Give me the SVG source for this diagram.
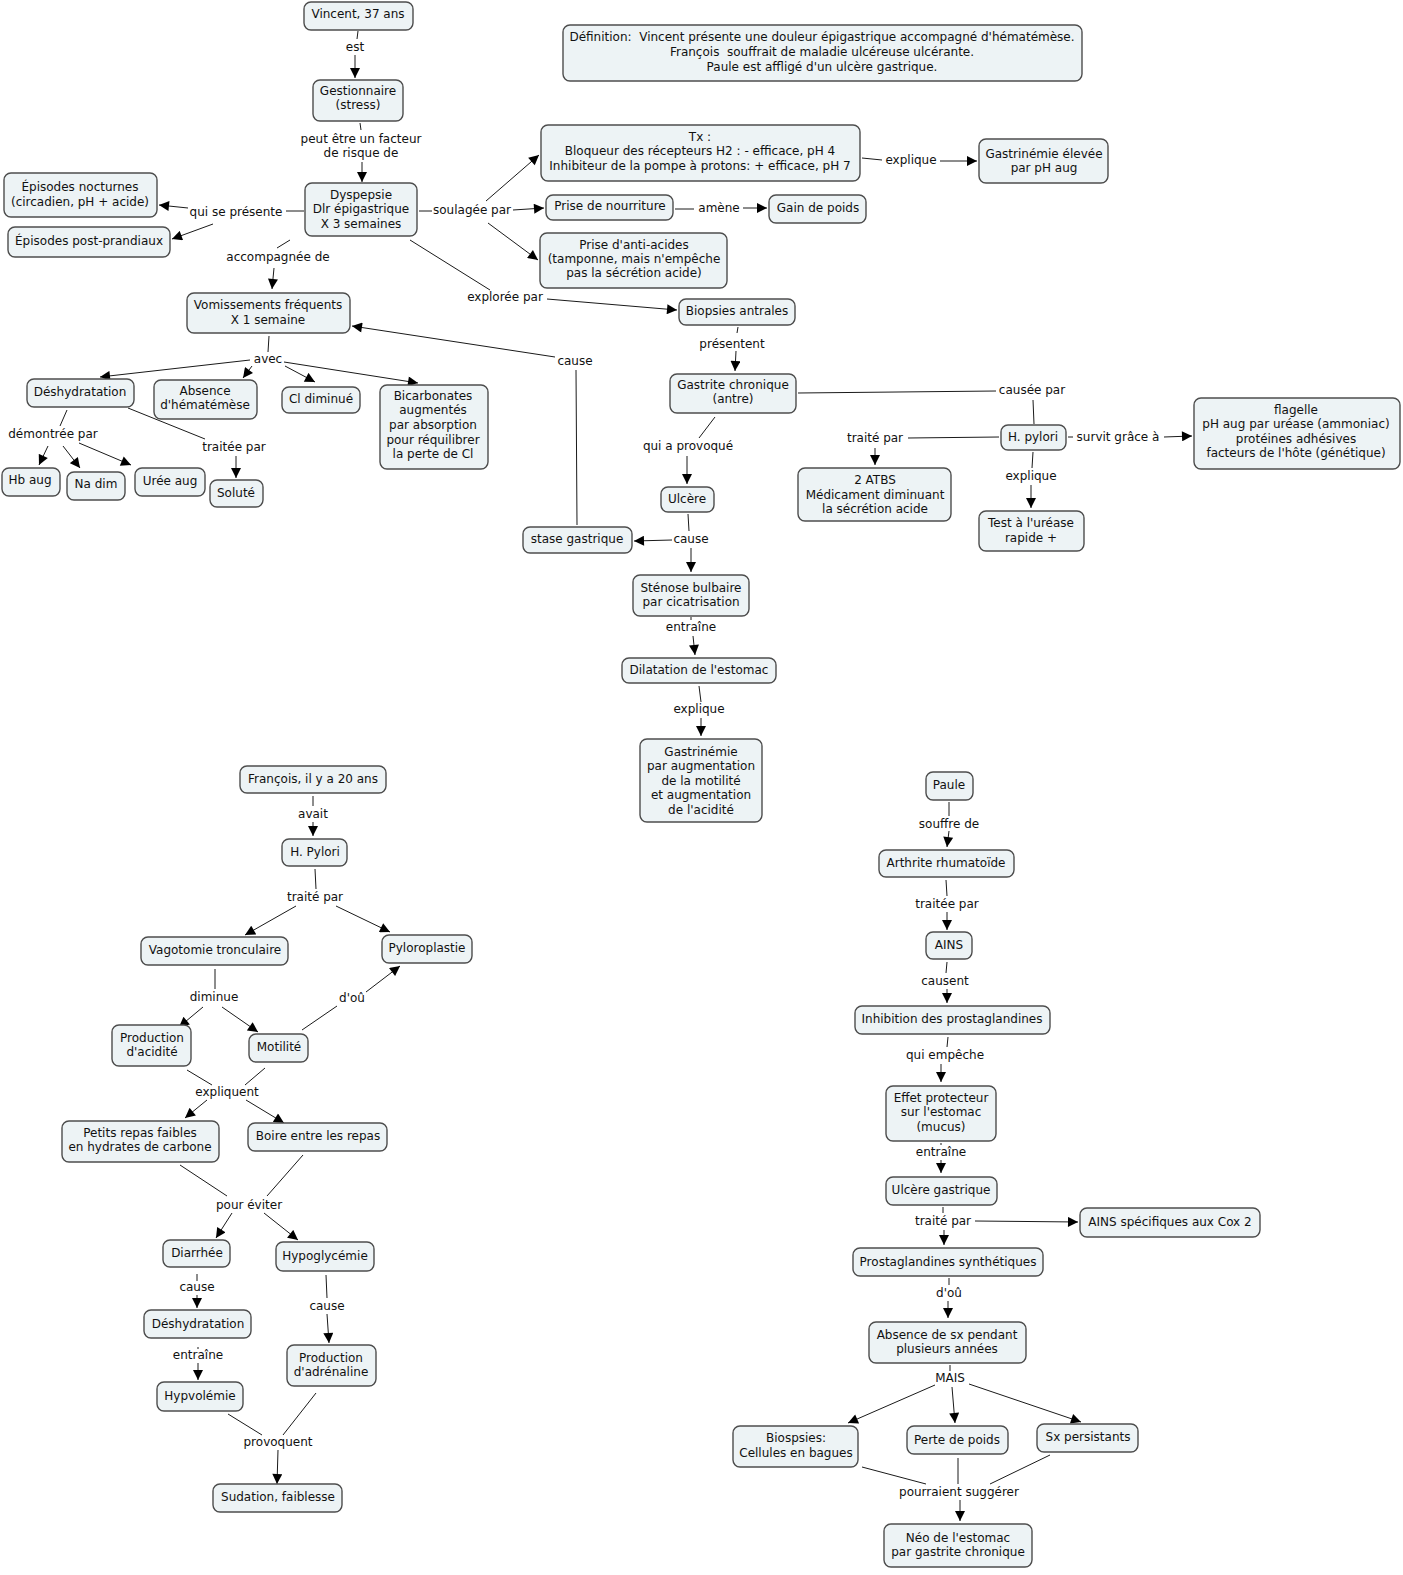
<svg xmlns="http://www.w3.org/2000/svg" width="1403" height="1575" viewBox="0 0 1403 1575">
<style>
.n rect{fill:#edf3f5;stroke:#4d4d4d;stroke-width:1.4}
text{font-family:"DejaVu Sans",Verdana,sans-serif;font-size:12px;text-anchor:middle;dominant-baseline:central;fill:#111}
.pre{white-space:pre}
.c line{stroke:#1a1a1a;stroke-width:1;fill:none}
.c line.a{marker-end:url(#ah)}
</style>
<defs>
<marker id="ah" viewBox="0 0 10 10" refX="10" refY="5" markerWidth="11" markerHeight="10" markerUnits="userSpaceOnUse" orient="auto"><path d="M0,0 L10,5 L0,10 z" fill="#000"/></marker>
</defs>
<rect width="1403" height="1575" fill="#fff"/>
<g class="c" id="connectors">
<line x1="358" y1="31" x2="357" y2="39"/><line class="a" x1="355" y1="55" x2="355" y2="78"/>
<line x1="360" y1="123" x2="361" y2="130"/><line class="a" x1="362" y1="162" x2="362" y2="182"/>
<line x1="304" y1="211" x2="286" y2="211"/><line class="a" x1="188" y1="208" x2="159" y2="205"/><line class="a" x1="213" y1="224" x2="172" y2="239"/>
<line x1="419" y1="211" x2="432" y2="211"/><line class="a" x1="513" y1="210" x2="544" y2="208"/><line class="a" x1="486" y1="201" x2="539" y2="155"/><line class="a" x1="488" y1="223" x2="538" y2="260"/>
<line x1="290" y1="240" x2="277" y2="248"/><line class="a" x1="274" y1="268" x2="272" y2="289"/>
<line x1="410" y1="240" x2="490" y2="290"/><line class="a" x1="547" y1="299" x2="677" y2="310"/>
<line x1="862" y1="158" x2="882" y2="160"/><line class="a" x1="940" y1="161" x2="977" y2="161"/>
<line x1="675" y1="209" x2="694" y2="209"/><line class="a" x1="743" y1="208" x2="767" y2="208"/>
<line x1="269" y1="336" x2="268" y2="352"/>
<line class="a" x1="250" y1="360" x2="100" y2="377"/><line class="a" x1="252" y1="366" x2="243" y2="378"/><line class="a" x1="285" y1="366" x2="315" y2="382"/><line class="a" x1="284" y1="362" x2="418" y2="383"/>
<line x1="67" y1="410" x2="60" y2="426"/><line class="a" x1="48" y1="446" x2="39" y2="465"/><line class="a" x1="63" y1="446" x2="80" y2="468"/><line class="a" x1="79" y1="443" x2="131" y2="465"/>
<line x1="128" y1="408" x2="205" y2="439"/><line class="a" x1="236" y1="456" x2="236" y2="478"/>
<line x1="577" y1="525" x2="576" y2="370"/><line class="a" x1="555" y1="357" x2="352" y2="326"/>
<line x1="738" y1="327" x2="737" y2="333"/><line class="a" x1="736" y1="351" x2="735" y2="371"/>
<line x1="798" y1="393" x2="996" y2="391"/><line x1="1033" y1="400" x2="1034" y2="424"/>
<line x1="715" y1="417" x2="699" y2="438"/><line class="a" x1="687" y1="456" x2="687" y2="484"/>
<line x1="999" y1="437" x2="908" y2="438"/><line class="a" x1="875" y1="448" x2="875" y2="465"/>
<line x1="1068" y1="437" x2="1073" y2="437"/><line class="a" x1="1164" y1="437" x2="1192" y2="436"/>
<line x1="1033" y1="452" x2="1032" y2="468"/><line class="a" x1="1031" y1="485" x2="1031" y2="508"/>
<line x1="688" y1="514" x2="689" y2="531"/><line class="a" x1="672" y1="540" x2="634" y2="541"/><line class="a" x1="691" y1="548" x2="691" y2="572"/>
<line x1="691" y1="617" x2="691" y2="620"/><line class="a" x1="693" y1="636" x2="695" y2="655"/>
<line x1="699" y1="686" x2="701" y2="702"/><line class="a" x1="701" y1="718" x2="701" y2="736"/>
<line x1="313" y1="796" x2="313" y2="806"/><line class="a" x1="313" y1="822" x2="313" y2="836"/>
<line x1="315" y1="869" x2="316" y2="889"/><line class="a" x1="296" y1="906" x2="245" y2="935"/><line class="a" x1="336" y1="906" x2="390" y2="932"/>
<line x1="215" y1="969" x2="215" y2="989"/><line class="a" x1="203" y1="1007" x2="179" y2="1027"/><line class="a" x1="222" y1="1007" x2="258" y2="1032"/>
<line x1="302" y1="1030" x2="337" y2="1006"/><line class="a" x1="366" y1="992" x2="400" y2="966"/>
<line x1="187" y1="1070" x2="212" y2="1085"/><line x1="265" y1="1068" x2="245" y2="1085"/><line class="a" x1="207" y1="1100" x2="185" y2="1118"/><line class="a" x1="246" y1="1100" x2="284" y2="1123"/>
<line x1="180" y1="1165" x2="227" y2="1196"/><line x1="303" y1="1155" x2="267" y2="1196"/><line class="a" x1="232" y1="1213" x2="216" y2="1238"/><line class="a" x1="264" y1="1213" x2="298" y2="1240"/>
<line x1="197" y1="1274" x2="197" y2="1281"/><line class="a" x1="197" y1="1295" x2="197" y2="1308"/>
<line x1="326" y1="1275" x2="327" y2="1298"/><line class="a" x1="327" y1="1314" x2="329" y2="1343"/>
<line x1="198" y1="1347" x2="198" y2="1349"/><line class="a" x1="198" y1="1363" x2="198" y2="1380"/>
<line x1="228" y1="1414" x2="262" y2="1435"/><line x1="316" y1="1393" x2="283" y2="1435"/><line class="a" x1="278" y1="1450" x2="277" y2="1484"/>
<line x1="949" y1="802" x2="949" y2="816"/><line class="a" x1="949" y1="831" x2="947" y2="847"/>
<line x1="946" y1="880" x2="947" y2="896"/><line class="a" x1="947" y1="912" x2="947" y2="930"/>
<line x1="947" y1="962" x2="946" y2="973"/><line class="a" x1="947" y1="989" x2="947" y2="1003"/>
<line x1="948" y1="1037" x2="947" y2="1047"/><line class="a" x1="941" y1="1064" x2="941" y2="1082"/>
<line x1="941" y1="1143" x2="941" y2="1145"/><line class="a" x1="941" y1="1160" x2="941" y2="1173"/>
<line x1="943" y1="1207" x2="943" y2="1213"/><line class="a" x1="975" y1="1221" x2="1078" y2="1222"/><line class="a" x1="944" y1="1230" x2="944" y2="1245"/>
<line x1="949" y1="1278" x2="949" y2="1285"/><line class="a" x1="948" y1="1301" x2="948" y2="1318"/>
<line x1="950" y1="1365" x2="950" y2="1371"/><line class="a" x1="935" y1="1385" x2="848" y2="1423"/><line class="a" x1="952" y1="1387" x2="955" y2="1423"/><line class="a" x1="969" y1="1384" x2="1081" y2="1422"/>
<line x1="862" y1="1467" x2="926" y2="1484"/><line x1="958" y1="1458" x2="958" y2="1484"/><line x1="1050" y1="1455" x2="990" y2="1484"/><line class="a" x1="960" y1="1500" x2="960" y2="1521"/>
</g>
<g id="labels">
<text x="355" y="47">est</text>
<text x="361" y="139">peut être un facteur</text><text x="361" y="153">de risque de</text>
<text x="236" y="212">qui se présente</text>
<text x="472" y="210">soulagée par</text>
<text x="278" y="257">accompagnée de</text>
<text x="505" y="297">explorée par</text>
<text x="911" y="160">explique</text>
<text x="719" y="208">amène</text>
<text x="268" y="359">avec</text>
<text x="53" y="434">démontrée par</text>
<text x="234" y="447">traitée par</text>
<text x="575" y="361">cause</text>
<text x="732" y="344">présentent</text>
<text x="1032" y="390">causée par</text>
<text x="688" y="446">qui a provoqué</text>
<text x="875" y="438">traité par</text>
<text x="1118" y="437">survit grâce à</text>
<text x="1031" y="476">explique</text>
<text x="691" y="539">cause</text>
<text x="691" y="627">entraîne</text>
<text x="699" y="709">explique</text>
<text x="313" y="814">avait</text>
<text x="315" y="897">traité par</text>
<text x="214" y="997">diminue</text>
<text x="352" y="998">d'oû</text>
<text x="227" y="1092">expliquent</text>
<text x="249" y="1205">pour éviter</text>
<text x="197" y="1287">cause</text>
<text x="327" y="1306">cause</text>
<text x="198" y="1355">entraîne</text>
<text x="278" y="1442">provoquent</text>
<text x="949" y="824">souffre de</text>
<text x="947" y="904">traitée par</text>
<text x="945" y="981">causent</text>
<text x="945" y="1055">qui empêche</text>
<text x="941" y="1152">entraîne</text>
<text x="943" y="1221">traité par</text>
<text x="949" y="1293">d'oû</text>
<text x="950" y="1378">MAIS</text>
<text x="959" y="1492">pourraient suggérer</text>
</g>
<g class="n" id="n-vincent"><rect x="304" y="2" width="109" height="28" rx="7"/><text x="358" y="14">Vincent, 37 ans</text></g>
<g class="n" id="n-definition"><rect x="563" y="25" width="519" height="56" rx="7"/><text class="pre" x="822" y="37" xml:space="preserve">Définition:  Vincent présente une douleur épigastrique accompagné d'hématémèse.</text><text class="pre" x="822" y="52" xml:space="preserve">François  souffrait de maladie ulcéreuse ulcérante.</text><text x="822" y="67">Paule est affligé d'un ulcère gastrique.</text></g>
<g class="n" id="n-gestionnaire"><rect x="313" y="80" width="90" height="41" rx="7"/><text x="358" y="91">Gestionnaire</text><text x="358" y="105">(stress)</text></g>
<g class="n" id="n-dyspepsie"><rect x="305" y="183" width="112" height="53" rx="7"/><text x="361" y="195">Dyspepsie</text><text x="361" y="209">Dlr épigastrique</text><text x="361" y="224">X 3 semaines</text></g>
<g class="n" id="n-nocturnes"><rect x="4" y="173" width="153" height="44" rx="7"/><text x="80" y="187">Épisodes nocturnes</text><text x="80" y="202">(circadien, pH + acide)</text></g>
<g class="n" id="n-postprandiaux"><rect x="8" y="227" width="162" height="30" rx="7"/><text x="89" y="241">Épisodes post-prandiaux</text></g>
<g class="n" id="n-tx"><rect x="541" y="125" width="319" height="56" rx="7"/><text x="700" y="137">Tx :</text><text x="700" y="151">Bloqueur des récepteurs H2 : - efficace, pH 4</text><text x="700" y="166">Inhibiteur de la pompe à protons: + efficace, pH 7</text></g>
<g class="n" id="n-gastrinemie-elevee"><rect x="979" y="139" width="129" height="44" rx="7"/><text x="1044" y="154">Gastrinémie élevée</text><text x="1044" y="168">par pH aug</text></g>
<g class="n" id="n-nourriture"><rect x="546" y="195" width="127" height="25" rx="7"/><text x="610" y="206">Prise de nourriture</text></g>
<g class="n" id="n-gain"><rect x="769" y="195" width="97" height="28" rx="7"/><text x="818" y="208">Gain de poids</text></g>
<g class="n" id="n-antiacides"><rect x="540" y="233" width="187" height="55" rx="7"/><text x="634" y="245">Prise d'anti-acides</text><text x="634" y="259">(tamponne, mais n'empêche</text><text x="634" y="273">pas la sécrétion acide)</text></g>
<g class="n" id="n-vomissements"><rect x="187" y="293" width="163" height="40" rx="7"/><text x="268" y="305">Vomissements fréquents</text><text x="268" y="320">X 1 semaine</text></g>
<g class="n" id="n-biopsies"><rect x="679" y="299" width="116" height="26" rx="7"/><text x="737" y="311">Biopsies antrales</text></g>
<g class="n" id="n-deshydratation1"><rect x="27" y="379" width="107" height="28" rx="7"/><text x="80" y="392">Déshydratation</text></g>
<g class="n" id="n-absence-hemat"><rect x="154" y="380" width="103" height="39" rx="7"/><text x="205" y="391">Absence</text><text x="205" y="405">d'hématémèse</text></g>
<g class="n" id="n-cl"><rect x="282" y="387" width="78" height="26" rx="7"/><text x="321" y="399">Cl diminué</text></g>
<g class="n" id="n-bicarbonates"><rect x="380" y="385" width="108" height="84" rx="7"/><text x="433" y="396">Bicarbonates</text><text x="433" y="410">augmentés</text><text x="433" y="425">par absorption</text><text x="433" y="440">pour réquilibrer</text><text x="433" y="454">la perte de Cl</text></g>
<g class="n" id="n-hb"><rect x="2" y="468" width="58" height="28" rx="7"/><text x="30" y="480">Hb aug</text></g>
<g class="n" id="n-na"><rect x="67" y="472" width="58" height="28" rx="7"/><text x="96" y="484">Na dim</text></g>
<g class="n" id="n-uree"><rect x="135" y="468" width="70" height="28" rx="7"/><text x="170" y="481">Urée aug</text></g>
<g class="n" id="n-solute"><rect x="210" y="480" width="53" height="27" rx="7"/><text x="236" y="493">Soluté</text></g>
<g class="n" id="n-stase"><rect x="523" y="527" width="109" height="26" rx="7"/><text x="577" y="539">stase gastrique</text></g>
<g class="n" id="n-gastrite"><rect x="670" y="374" width="126" height="39" rx="7"/><text x="733" y="385">Gastrite chronique</text><text x="733" y="399">(antre)</text></g>
<g class="n" id="n-ulcere"><rect x="661" y="487" width="53" height="25" rx="7"/><text x="687" y="499">Ulcère</text></g>
<g class="n" id="n-hpylori1"><rect x="1001" y="425" width="65" height="25" rx="7"/><text x="1033" y="437">H. pylori</text></g>
<g class="n" id="n-flagelle"><rect x="1194" y="398" width="206" height="71" rx="7"/><text x="1296" y="410">flagelle</text><text x="1296" y="424">pH aug par uréase (ammoniac)</text><text x="1296" y="439">protéines adhésives</text><text x="1296" y="453">facteurs de l'hôte (génétique)</text></g>
<g class="n" id="n-atbs"><rect x="798" y="468" width="153" height="53" rx="7"/><text x="875" y="480">2 ATBS</text><text x="875" y="495">Médicament diminuant</text><text x="875" y="509">la sécrétion acide</text></g>
<g class="n" id="n-test"><rect x="979" y="511" width="105" height="40" rx="7"/><text x="1031" y="523">Test à l'uréase</text><text x="1031" y="538">rapide +</text></g>
<g class="n" id="n-stenose"><rect x="633" y="575" width="116" height="41" rx="7"/><text x="691" y="588">Sténose bulbaire</text><text x="691" y="602">par cicatrisation</text></g>
<g class="n" id="n-dilatation"><rect x="622" y="658" width="154" height="25" rx="7"/><text x="699" y="670">Dilatation de l'estomac</text></g>
<g class="n" id="n-gastrinemie"><rect x="640" y="739" width="122" height="83" rx="7"/><text x="701" y="752">Gastrinémie</text><text x="701" y="766">par augmentation</text><text x="701" y="781">de la motilité</text><text x="701" y="795">et augmentation</text><text x="701" y="810">de l'acidité</text></g>
<g class="n" id="n-francois"><rect x="240" y="766" width="146" height="27" rx="7"/><text x="313" y="779">François, il y a 20 ans</text></g>
<g class="n" id="n-hpylori2"><rect x="282" y="839" width="65" height="27" rx="7"/><text x="315" y="852">H. Pylori</text></g>
<g class="n" id="n-vagotomie"><rect x="141" y="937" width="147" height="28" rx="7"/><text x="215" y="950">Vagotomie tronculaire</text></g>
<g class="n" id="n-pyloroplastie"><rect x="382" y="935" width="90" height="28" rx="7"/><text x="427" y="948">Pyloroplastie</text></g>
<g class="n" id="n-acidite"><rect x="112" y="1025" width="79" height="41" rx="7"/><text x="152" y="1038">Production</text><text x="152" y="1052">d'acidité</text></g>
<g class="n" id="n-motilite"><rect x="249" y="1034" width="59" height="28" rx="7"/><text x="279" y="1047">Motilité</text></g>
<g class="n" id="n-petits"><rect x="62" y="1121" width="157" height="41" rx="7"/><text x="140" y="1133">Petits repas faibles</text><text x="140" y="1147">en hydrates de carbone</text></g>
<g class="n" id="n-boire"><rect x="248" y="1123" width="139" height="28" rx="7"/><text x="318" y="1136">Boire entre les repas</text></g>
<g class="n" id="n-diarrhee"><rect x="163" y="1240" width="67" height="27" rx="7"/><text x="197" y="1253">Diarrhée</text></g>
<g class="n" id="n-hypoglycemie"><rect x="276" y="1242" width="98" height="29" rx="7"/><text x="325" y="1256">Hypoglycémie</text></g>
<g class="n" id="n-deshydratation2"><rect x="144" y="1310" width="107" height="28" rx="7"/><text x="198" y="1324">Déshydratation</text></g>
<g class="n" id="n-adrenaline"><rect x="287" y="1345" width="89" height="41" rx="7"/><text x="331" y="1358">Production</text><text x="331" y="1372">d'adrénaline</text></g>
<g class="n" id="n-hypvolemie"><rect x="157" y="1382" width="86" height="29" rx="7"/><text x="200" y="1396">Hypvolémie</text></g>
<g class="n" id="n-sudation"><rect x="213" y="1484" width="129" height="28" rx="7"/><text x="278" y="1497">Sudation, faiblesse</text></g>
<g class="n" id="n-paule"><rect x="926" y="772" width="47" height="28" rx="7"/><text x="949" y="785">Paule</text></g>
<g class="n" id="n-arthrite"><rect x="879" y="850" width="135" height="27" rx="7"/><text x="946" y="863">Arthrite rhumatoïde</text></g>
<g class="n" id="n-ains"><rect x="926" y="932" width="46" height="27" rx="7"/><text x="949" y="945">AINS</text></g>
<g class="n" id="n-inhibition"><rect x="855" y="1006" width="195" height="28" rx="7"/><text x="952" y="1019">Inhibition des prostaglandines</text></g>
<g class="n" id="n-effet"><rect x="886" y="1086" width="110" height="55" rx="7"/><text x="941" y="1098">Effet protecteur</text><text x="941" y="1112">sur l'estomac</text><text x="941" y="1127">(mucus)</text></g>
<g class="n" id="n-ulcere-gastrique"><rect x="886" y="1177" width="111" height="28" rx="7"/><text x="941" y="1190">Ulcère gastrique</text></g>
<g class="n" id="n-ains-cox2"><rect x="1080" y="1208" width="180" height="29" rx="7"/><text x="1170" y="1222">AINS spécifiques aux Cox 2</text></g>
<g class="n" id="n-prostaglandines"><rect x="853" y="1248" width="190" height="28" rx="7"/><text x="948" y="1262">Prostaglandines synthétiques</text></g>
<g class="n" id="n-absence-sx"><rect x="869" y="1322" width="157" height="41" rx="7"/><text x="947" y="1335">Absence de sx pendant</text><text x="947" y="1349">plusieurs années</text></g>
<g class="n" id="n-biospsies"><rect x="733" y="1426" width="125" height="41" rx="7"/><text x="796" y="1438">Biospsies:</text><text x="796" y="1453">Cellules en bagues</text></g>
<g class="n" id="n-perte"><rect x="907" y="1426" width="101" height="28" rx="7"/><text x="957" y="1440">Perte de poids</text></g>
<g class="n" id="n-sx"><rect x="1037" y="1424" width="101" height="28" rx="7"/><text x="1088" y="1437">Sx persistants</text></g>
<g class="n" id="n-neo"><rect x="884" y="1524" width="148" height="43" rx="7"/><text x="958" y="1538">Néo de l'estomac</text><text x="958" y="1552">par gastrite chronique</text></g>
</svg>
